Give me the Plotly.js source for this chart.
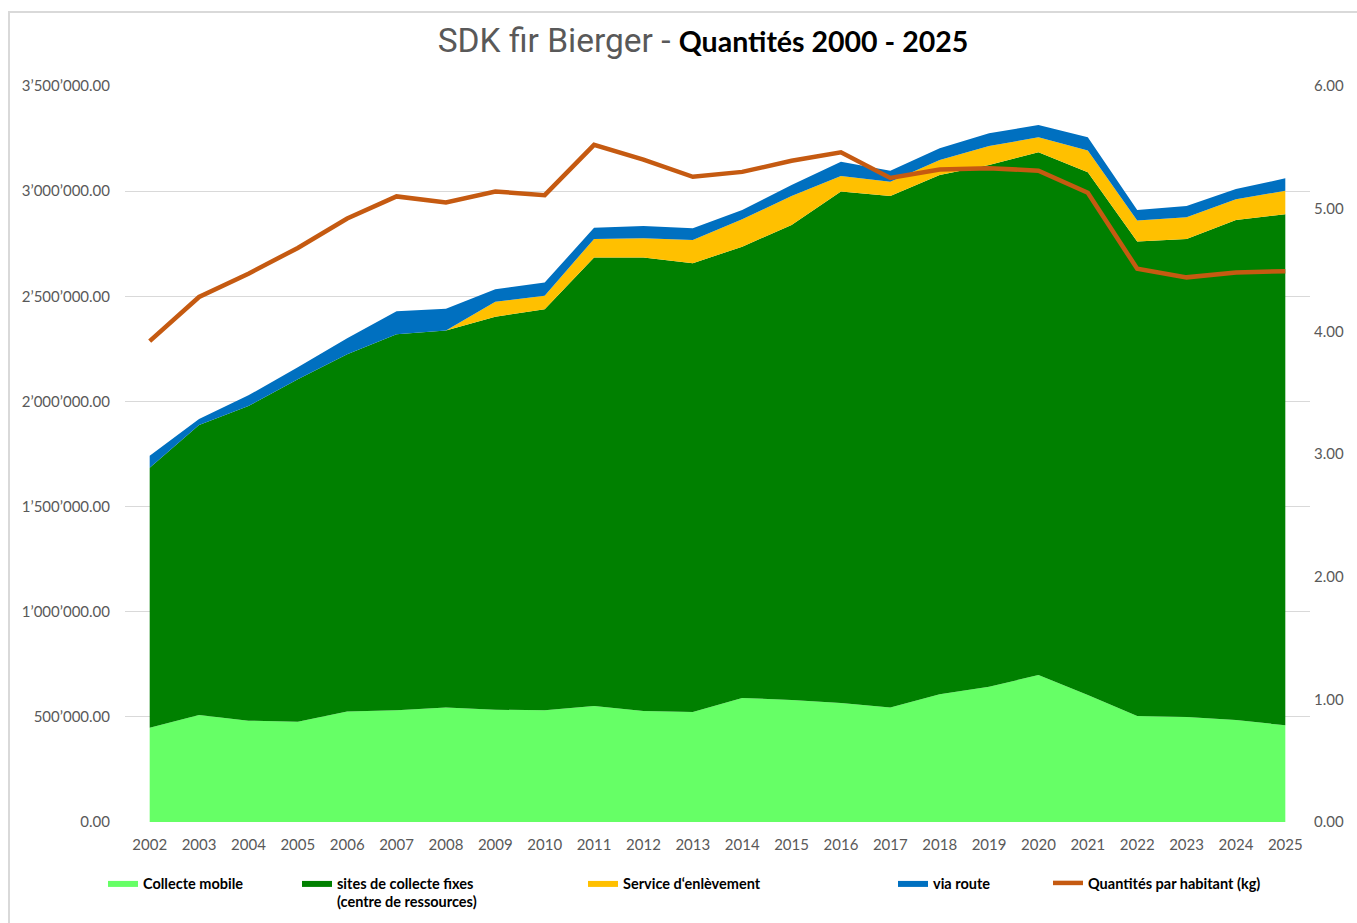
<!DOCTYPE html>
<html>
<head>
<meta charset="utf-8">
<script src="https://cdn.plot.ly/plotly-3.0.1.min.js"></script>
<style>
  html, body { margin: 0; padding: 0; background: #fff; }
  #chart { width: 1357px; height: 923px; }
  #frame { position: absolute; left: 8px; top: 11px; width: 1400px; height: 1000px;
           border-left: 2px solid #d9d9d9; border-top: 2px solid #d9d9d9; pointer-events: none; }
</style>
</head>
<body>
<div id="chart"></div>
<div id="frame"></div>
<script>
const years = [2002, 2003, 2004, 2005, 2006, 2007, 2008, 2009, 2010, 2011, 2012, 2013,
               2014, 2015, 2016, 2017, 2018, 2019, 2020, 2021, 2022, 2023, 2024, 2025];

const collecteMobile = [448000, 509000, 482000, 477000, 525000, 531000, 545000, 534000, 531000, 552000, 528000, 523000,
                        590000, 580000, 566000, 545000, 607000, 643000, 699000, 604000, 504000, 499000, 485000, 460000];

const sitesFixes = [1237000, 1379000, 1496000, 1628000, 1699000, 1788000, 1792000, 1869000, 1907000, 2132000, 2157000, 2134000,
                    2146000, 2259000, 2432000, 2432000, 2470000, 2481000, 2486000, 2486000, 2256000, 2274000, 2378000, 2430000];

const serviceEnlevement = [0, 0, 0, 0, 0, 0, 0, 71000, 65000, 89000, 91000, 111000,
                           130000, 138000, 74000, 68000, 71000, 91000, 71000, 103000, 100000, 103000, 98000, 112000];

const viaRoute = [57000, 28000, 51000, 57000, 76000, 110000, 104000, 59000, 62000, 53000, 58000, 55000,
                  44000, 52000, 68000, 52000, 56000, 60000, 59000, 63000, 50000, 53000, 49000, 59000];

const parHabitant = [3.92, 4.28, 4.47, 4.68, 4.92, 5.10, 5.05, 5.14, 5.11, 5.52, 5.40, 5.26,
                     5.30, 5.39, 5.46, 5.25, 5.32, 5.33, 5.31, 5.13, 4.51, 4.44, 4.48, 4.49];

const seriesNames = ['Collecte mobile', 'sites de collecte fixes<br>(centre de ressources)',
                     'Service d\u2018enl\u00e8vement', 'via route', 'Quantit\u00e9s par habitant (kg)'];

const FONT = 'Lato, Calibri, "Liberation Sans", sans-serif';

function area(y, name, color, legendId) {
  return {
    x: years, y: y, name: name, type: 'scatter', mode: 'lines',
    stackgroup: 'one', fillcolor: color,
    line: { width: 0, color: color },
    legend: legendId, hoverinfo: 'x+y+name'
  };
}

const traces = [
  area(collecteMobile, seriesNames[0], '#66FF66', 'legend'),
  area(sitesFixes, seriesNames[1], '#008000', 'legend2'),
  area(serviceEnlevement, seriesNames[2], '#FFC000', 'legend3'),
  area(viaRoute, seriesNames[3], '#0070C0', 'legend4'),
  {
    x: years, y: parHabitant, name: seriesNames[4], type: 'scatter', mode: 'lines',
    yaxis: 'y2', line: { color: '#C55A11', width: 4.5 }, legend: 'legend5'
  }
];

function leg(xPix, yPix) {
  return {
    x: (xPix - 125) / 1185, y: (822 - yPix) / 736, xanchor: 'left', yanchor: 'top',
    orientation: 'h', bgcolor: 'rgba(0,0,0,0)', borderwidth: 0,
    font: { family: FONT, size: 14.5, color: '#000', weight: 'bold' },
    itemwidth: 30, tracegroupgap: 0, valign: 'top'
  };
}

const layout = {
  width: 1357, height: 923,
  margin: { l: 125, r: 47, t: 86, b: 101, autoexpand: false },
  paper_bgcolor: 'rgba(0,0,0,0)', plot_bgcolor: '#fff',
  separators: '.\u2019',
  title: {
    text: '<span style="font-family:Roboto, sans-serif;color:#595959;font-weight:normal;font-size:33.5px">SDK fir Bierger - </span><b>Quantit\u00e9s 2000 - 2025</b>',
    font: { family: FONT, size: 28.5, color: '#000' },
    xref: 'container', x: 703 / 1357, xanchor: 'center',
    yref: 'container', y: 1 - 42 / 923, yanchor: 'middle'
  },
  xaxis: {
    type: 'linear', range: [2001.5, 2025.5], tickmode: 'linear', tick0: 2002, dtick: 1,
    showgrid: false, zeroline: false, showline: false, ticks: '',
    tickfont: { family: FONT, size: 15, color: '#595959' }, ticklabelstandoff: 12
  },
  yaxis: {
    range: [0, 3500000], tickmode: 'linear', tick0: 0, dtick: 500000, tickformat: ',.2f',
    showgrid: true, gridcolor: '#d9d9d9', gridwidth: 1.3, zeroline: false, showline: false, ticks: '',
    tickfont: { family: FONT, size: 15, color: '#595959' }, ticklabelstandoff: 14
  },
  yaxis2: {
    overlaying: 'y', side: 'right', range: [0, 6], tickmode: 'linear', tick0: 0, dtick: 1, tickformat: '.2f',
    showgrid: false, zeroline: false, showline: false, ticks: '',
    tickfont: { family: FONT, size: 15, color: '#595959' }, ticklabelstandoff: 3
  },
  legend: leg(103, 867),
  legend2: leg(297, 867),
  legend3: leg(583, 867),
  legend4: leg(893, 867),
  legend5: leg(1048, 867),
  showlegend: true,
  hovermode: 'x unified'
};

Plotly.newPlot('chart', traces, layout, { displayModeBar: false });
</script>
</body>
</html>
